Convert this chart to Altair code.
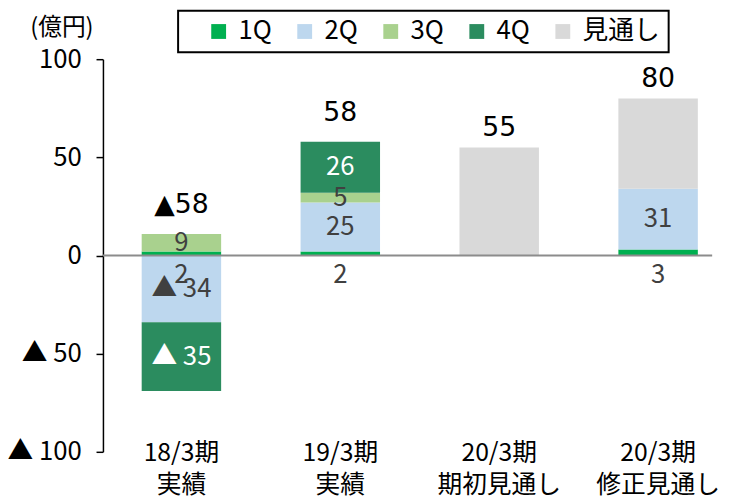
import altair as alt
import pandas as pd

categories = ["18/3期\n実績", "19/3期\n実績", "20/3期\n期初見通し", "20/3期\n修正見通し"]
series = ["1Q", "2Q", "3Q", "4Q", "見通し"]
colors = ["#00B050", "#BDD7EE", "#A9D18E", "#2B8C5F", "#D9D9D9"]
q1 = [2, 2, None, 3]
q2 = [-34, 25, None, 31]
q3 = [9, 5, None, None]
q4 = [-35, 26, None, None]
outlook = [None, None, 55, 46]
totals = [-58, 58, 55, 80]

values = {"1Q": q1, "2Q": q2, "3Q": q3, "4Q": q4, "見通し": outlook}


def seg_fmt(v):
    return "▲ " + str(abs(v)) if v < 0 else str(v)


def tot_fmt(v):
    return "▲" + str(abs(v)) if v < 0 else str(v)


rows = []
tops = []
for i, cat in enumerate(categories):
    pos, neg = 0, 0
    for s in series:
        v = values[s][i]
        if v is None:
            continue
        if v >= 0:
            y0, y1 = pos, pos + v
            pos = y1
        else:
            y0, y1 = neg, neg + v
            neg = y1
        rows.append({"cat": cat, "series": s, "y0": y0, "y1": y1,
                     "mid": (y0 + y1) / 2, "label": seg_fmt(v)})
    tops.append({"cat": cat, "top": pos, "total": tot_fmt(totals[i]),
                 "actual": "実績" in cat})

df = pd.DataFrame(rows)
tdf = pd.DataFrame(tops)

JP = "Noto Sans CJK JP"

x_enc = alt.X(
    "cat:N", sort=categories,
    scale=alt.Scale(paddingInner=0.5, paddingOuter=0.167, align=0.73),
    axis=alt.Axis(title=None, labelExpr="split(datum.label, '\\n')", domain=False,
                  ticks=False, labelFontSize=25, labelColor="black", labelPadding=-11,
                  labelLineHeight=32, labelAngle=0, labelFont=JP),
)

y_scale = alt.Scale(domain=[-100, 100], nice=False)

bars = alt.Chart(df).mark_bar().encode(
    x=x_enc,
    y=alt.Y("y0:Q", scale=y_scale,
            axis=alt.Axis(values=[-100, -50, 0, 50, 100], grid=False,
                          labelExpr="datum.value < 0 ? '▲ ' + abs(datum.value) : datum.label",
                          domainColor="black", domainWidth=1.5, tickColor="black",
                          tickWidth=1.5, tickSize=7, labelPadding=15, labelFontSize=26,
                          labelColor="black", labelFont=JP,
                          title="(億円)", titleAngle=0, titleX=-42, titleY=-32,
                          titleAlign="center", titleBaseline="middle", titleFontSize=24,
                          titleFontWeight="normal", titleFont=JP, titleColor="black")),
    y2="y1:Q",
    color=alt.Color("series:N", scale=alt.Scale(domain=series, range=colors),
                    legend=alt.Legend(title=" ", titleOrient="left", titlePadding=20,
                                      titleFontSize=26, orient="none",
                                      direction="horizontal",
                                      legendX=76, legendY=-49, symbolType="square",
                                      symbolSize=225, symbolStrokeWidth=0,
                                      symbolOpacity=1, labelOffset=7,
                                      columnPadding=20, labelFontSize=26, labelFont=JP,
                                      labelColor="black", padding=8,
                                      strokeColor="black")),
)

zero = alt.Chart().mark_rule(color="#8C8C8C", strokeWidth=2).encode(y=alt.datum(0))

seg_text = alt.Chart(df).transform_filter(
    "datum.series != '1Q' && datum.series != '見通し'"
).mark_text(fontSize=26, font=JP, baseline="middle").encode(
    x=x_enc,
    y=alt.Y("mid:Q", scale=y_scale),
    text="label:N",
    color=alt.condition("datum.series == '4Q'", alt.value("white"), alt.value("#404040")),
)

q1_text = alt.Chart(df).transform_filter("datum.series == '1Q'").mark_text(
    fontSize=26, font=JP, baseline="middle", dy=20, color="#404040"
).encode(x=x_enc, y=alt.datum(0), text="label:N")

tot_actual = alt.Chart(tdf).transform_filter("datum.actual").mark_text(
    fontSize=27, font="DejaVu Sans", baseline="middle", dy=-29, color="black"
).encode(x=x_enc, y=alt.Y("top:Q", scale=y_scale), text="total:N")

tot_fc = alt.Chart(tdf).transform_filter("!datum.actual").mark_text(
    fontSize=27, font="DejaVu Sans", baseline="middle", dy=-20, color="black"
).encode(x=x_enc, y=alt.Y("top:Q", scale=y_scale), text="total:N")

chart = alt.layer(bars, zero, seg_text, q1_text, tot_actual, tot_fc).properties(
    width=616, height=397,
    autosize=alt.AutoSizeParams(type="none"),
    padding={"left": 96, "top": 49, "right": 15, "bottom": 50},
).configure_view(stroke=None).configure_legend(strokeWidth=2)

chart.save("out.html", embed_options={"renderer": "svg", "actions": False})
